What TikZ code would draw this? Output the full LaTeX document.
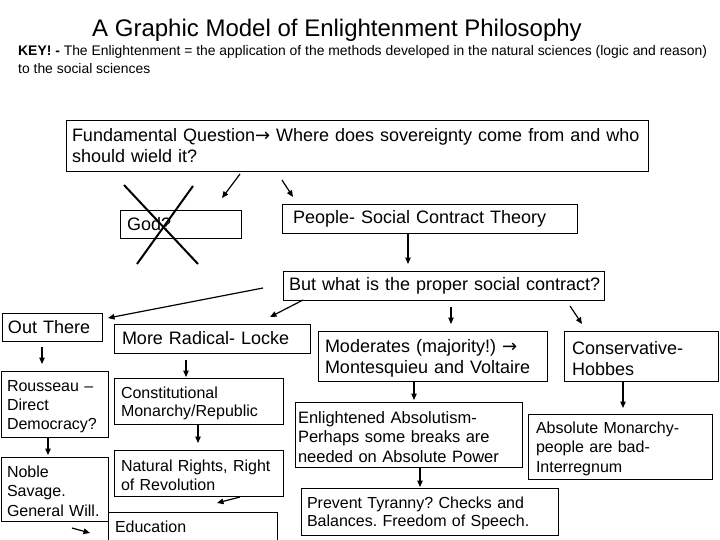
\documentclass[tikz,border=0pt]{standalone}
\usepackage{fontspec}
\setmainfont{Liberation Sans}
\newfontfamily\arrfont{DejaVu Sans}
\usetikzlibrary{arrows.meta,calc}
\newcommand\fsz[2]{\fontsize{#1}{#2}\selectfont}
\newcommand\rarr{{\arrfont →}}
\newcommand\fst{\rule{0pt}{1.0em}}
\frenchspacing
\begin{document}
\begin{tikzpicture}[x=1pt,y=-1pt,
  bx/.style={draw, line width=0.9pt, anchor=north west, inner ysep=0pt, outer sep=0pt, align=left},
  arr/.style={line width=1.2pt, -{Triangle[length=6.5pt,width=5.5pt]}},
  xline/.style={line width=2pt},
  ttl/.style={anchor=base west, inner sep=0pt}]
\fill[white] (0,0) rectangle (720,540);
\useasboundingbox (0,0) rectangle (720,540);

% title and key
\node[ttl, font=\fsz{24}{28}] (title) at (92,37) {A Graphic Model of Enlightenment Philosophy};
\node[ttl, font=\fsz{13.9}{16}] (key1) at (18,56) {\textbf{KEY! -} The Enlightenment = the application of the methods developed in the natural sciences (logic and reason)};
\node[ttl, font=\fsz{13.9}{16}] (key2) at (18,74) {to the social sciences};

% boxes
\node[bx, inner xsep=6pt, text width=570pt, minimum height=51pt, font=\fsz{18}{21}] (FQ) at (66,120)
  {\mbox{Fundamental Question\rarr{} Where does sovereignty come from and who}\\\mbox{should wield it?}};
\node[bx, inner xsep=7pt, text width=107pt, minimum height=28pt, font=\fsz{18}{21}] (God) at (120,210) {\mbox{God?}};
\node[bx, inner xsep=11pt, text width=273pt, minimum height=29pt, font=\fsz{18}{21}] (People) at (282,204) {\mbox{People- Social Contract Theory}};
\node[bx, inner xsep=6pt, text width=309pt, minimum height=29pt, font=\fsz{18}{21}] (But) at (283,271) {\mbox{But what is the proper social contract?}};
\node[bx, inner xsep=6pt, text width=88pt, minimum height=28pt, font=\fsz{18}{21}] (Out) at (2,313) {\mbox{Out There}};
\node[bx, inner xsep=8pt, text width=180pt, minimum height=29pt, font=\fsz{18}{21}] (Radical) at (114,324) {\mbox{More Radical- Locke}};
\node[bx, inner xsep=6pt, text width=95pt, minimum height=66pt, font=\fsz{16}{19}] (Rousseau) at (1,371) {\mbox{\fst Rousseau –}\\\mbox{Direct}\\\mbox{Democracy?}};
\node[bx, inner xsep=6pt, text width=95pt, minimum height=64pt, font=\fsz{16}{19.5}] (Noble) at (1,457) {\mbox{\fst Noble}\\\mbox{Savage.}\\\mbox{General Will.}};
\node[bx, inner xsep=7pt, text width=155pt, minimum height=46pt, font=\fsz{16}{18.5}] (Const) at (114,378) {\mbox{\fst Constitutional}\\\mbox{Monarchy/Republic}};
\node[bx, inner xsep=7pt, text width=155pt, minimum height=46pt, font=\fsz{16}{19}] (Natural) at (114,450) {\mbox{\fst Natural Rights, Right}\\\mbox{of Revolution}};
\node[bx, inner xsep=7pt, text width=155pt, minimum height=30pt, font=\fsz{16}{19}] (Edu) at (108,512) {\mbox{Education}};
\node[bx, inner xsep=7pt, text width=215pt, minimum height=50pt, font=\fsz{18}{21.5}] (Moderates) at (318,331) {\mbox{\fst Moderates (majority!) \rarr}\\\mbox{Montesquieu and Voltaire}};
\node[bx, inner xsep=3pt, text width=221pt, minimum height=65pt, font=\fsz{16.5}{19.5}] (Enl) at (295,402) {\mbox{\fst Enlightened Absolutism-}\\\mbox{Perhaps some breaks are}\\\mbox{needed on Absolute Power}};
\node[bx, inner xsep=6pt, text width=245pt, minimum height=47pt, font=\fsz{16}{17.7}] (Prevent) at (301,488) {\mbox{\fst Prevent Tyranny? Checks and}\\\mbox{Balances. Freedom of Speech.}};
\node[bx, inner xsep=8pt, text width=138pt, minimum height=50pt, font=\fsz{18}{21.5}] (Cons) at (564,331) {\mbox{\fst Conservative-}\\\mbox{Hobbes}};
\node[bx, inner xsep=8pt, text width=168pt, minimum height=65pt, font=\fsz{16}{19.3}] (Abs) at (528,414) {\mbox{\fst Absolute Monarchy-}\\\mbox{people are bad-}\\\mbox{Interregnum}};

% cross over God
\draw[xline] ($(God.north west)+(4,-25)$) -- ($(God.north west)+(78,54)$);
\draw[xline] ($(God.north west)+(73,-24)$) -- ($(God.north west)+(17,54)$);

% arrows
\draw[arr] ($(FQ.south west)+(174,3)$) -- ($(God.north west)+(102,-12)$);
\draw[arr] ($(FQ.south west)+(216,9)$) -- ($(People.north west)+(11,-7)$);
\draw[arr] ($(People.south west)+(126,0)$) -- ($(But.north west)+(125,-7)$);
\draw[arr] ($(But.south west)+(-20,-12)$) -- ($(Out.north east)+(6,5)$);
\draw[arr] ($(But.south west)+(20,0)$) -- ($(Radical.north west)+(156,-7)$);
\draw[arr] ($(But.south west)+(168,7)$) -- ($(Moderates.north west)+(133,-7)$);
\draw[arr] ($(But.south west)+(287,6)$) -- ($(Cons.north west)+(18,-7)$);
\draw[arr] ($(Out.south west)+(40,6)$) -- ($(Rousseau.north west)+(41,-7)$);
\draw[arr] ($(Rousseau.south west)+(47,0)$) -- ($(Noble.north west)+(47,-2)$);
\coordinate (nobleout) at (90,533);
\draw[arr] ($(Noble.south west)+(71,7)$) -- (nobleout);
\draw[arr] ($(Radical.south west)+(72,7)$) -- ($(Const.north west)+(72,-1)$);
\draw[arr] ($(Const.south west)+(84,0)$) -- ($(Natural.north west)+(84,-7)$);
\draw[arr] ($(Natural.south west)+(126,1)$) -- ($(Edu.north west)+(109,-9)$);
\draw[arr] ($(Moderates.south west)+(96,0)$) -- ($(Enl.north west)+(119,-2)$);
\draw[arr] ($(Enl.south west)+(125,0)$) -- ($(Prevent.north west)+(119,-1)$);
\draw[arr] ($(Cons.south west)+(59,0)$) -- ($(Abs.north west)+(95,-6)$);
\end{tikzpicture}
\end{document}
